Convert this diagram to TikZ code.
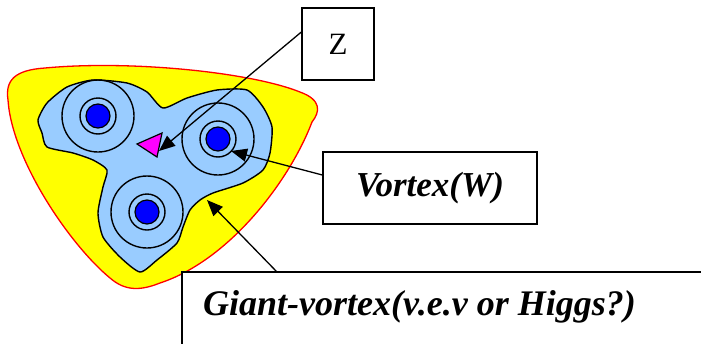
\documentclass[tikz,border=0pt]{standalone}
\usepackage{fontspec}
\setmainfont{Liberation Serif}
\usetikzlibrary{arrows.meta}
\definecolor{skyb}{RGB}{153,204,255}
\definecolor{yel}{RGB}{255,255,0}
\definecolor{dotb}{RGB}{0,0,255}
\definecolor{mag}{RGB}{255,0,255}
\tikzset{
  lbl/.style={draw=black, line width=1.3pt, fill=white, inner sep=0pt},
  ring/.style={draw=black, line width=1.4pt},
  vdot/.style={draw=black, line width=1.2pt, fill=dotb},
  ptr/.style={draw=black, line width=1.3pt, -{Triangle[length=16pt,width=13pt]}},
}
\begin{document}
\begin{tikzpicture}[x=1pt,y=-1pt]
\useasboundingbox (0,0) rectangle (701,343);
\clip (0,0) rectangle (701,343);
% yellow giant vortex
\fill[yel, draw=red, line width=1.3pt] (8,100)
  .. controls (5,80) and (15,70) .. (45,68)
  .. controls (130,60) and (250,72) .. (300,92)
  .. controls (322,100) and (320,112) .. (312,122)
  .. controls (290,180) and (230,260) .. (160,283)
  .. controls (140,291) and (125,291) .. (110,278)
  .. controls (70,245) and (12,160) .. (8,100) -- cycle;
% blue blob
\fill[skyb, draw=black, line width=1.4pt] plot[smooth cycle, tension=0.4] coordinates {
 (38,120) (47,103) (67,87) (93,80) (127,83) (147,92) (163,108) (187,98) (217,90)
 (247,90) (263,107) (272,127) (270,153) (263,170) (243,183) (213,193) (200,200)
 (190,210) (183,227) (177,243) (157,260) (140,272) (120,257) (103,237) (98,213)
 (103,187) (107,170) (93,160) (73,153) (47,147) (42,133)};
% vortices
\foreach \n/\cx/\cy in {a/98/116, b/218/139, c/147/212}{
  \draw[ring] (\cx,\cy) circle (36);
  \draw[ring] (\cx,\cy) circle (18);
  \draw[vdot] (\cx,\cy) circle (12);
  \coordinate (v\n) at (\cx,\cy);
}
% magenta triangle
\filldraw[fill=mag, draw=black, line width=1.2pt] (137,144) -- (162,133) -- (157,157) -- cycle;
\coordinate (tri) at (159,151);
\coordinate (vtip) at (231,151);
\coordinate (gtip) at (207,200);
% boxes
\node[lbl, minimum width=72pt, minimum height=72pt, font=\fontsize{31}{31}\selectfont] (z) at (338,44) {Z};
\node[lbl, minimum width=214pt, minimum height=72pt, font=\fontsize{35}{35}\selectfont\bfseries\itshape] (vw) at (430,188) {Vortex(W)};
\draw[line width=1.3pt, fill=white] (182,272) rectangle (710,360);
\node[anchor=base west, inner sep=0pt, font=\fontsize{36}{36}\selectfont\bfseries\itshape] (gv) at (203,315) {Giant-vortex(v.e.v or Higgs?)};
\coordinate (gsrc) at (277,272);
% arrows
\draw[ptr] (z.west |- 0,32) -- (tri);
\draw[ptr] (vw.west |- 0,175) -- (vtip);
\draw[ptr] (gsrc) -- (gtip);
\end{tikzpicture}
\end{document}
